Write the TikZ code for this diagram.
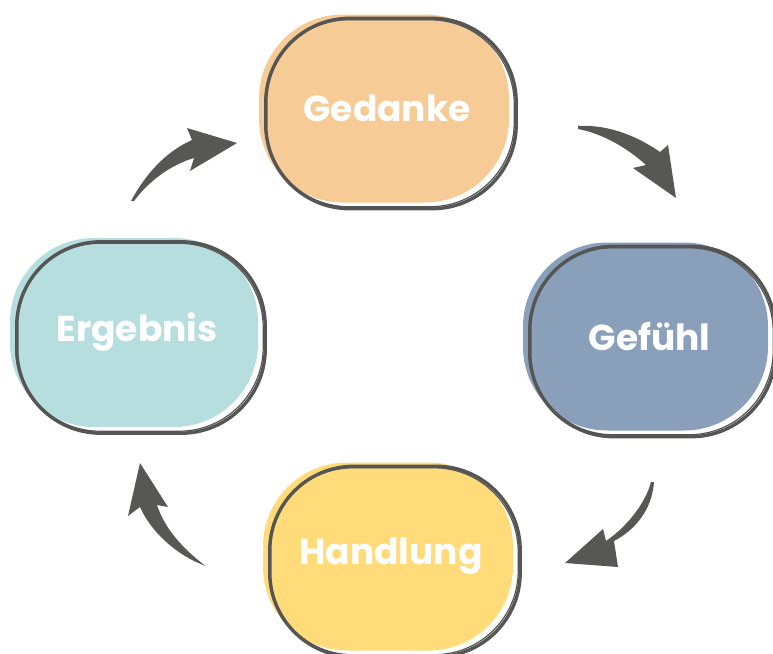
\documentclass[tikz,border=0pt]{standalone}
\usepackage{fontspec}
\setsansfont{Poppins}
\usetikzlibrary{calc}
\definecolor{cGed}{HTML}{F7CB95}
\definecolor{cGef}{HTML}{8AA0BA}
\definecolor{cErg}{HTML}{B6DEDF}
\definecolor{cHan}{HTML}{FFDB7A}
\definecolor{cLine}{HTML}{555553}
\definecolor{cArr}{HTML}{575756}
\tikzset{
  blob/.style={rectangle, rounded corners=84pt, inner sep=0pt, draw=none,
    minimum width=250pt, minimum height=188pt, text=white,
    font=\sffamily\bfseries\fontsize{36}{36}\selectfont},
  rim/.style={draw=cLine, line width=3.4pt, rounded corners=84pt},
  rimthin/.style={draw=cLine, line width=1.2pt, rounded corners=84pt},
  arr/.style={fill=cArr, draw=none}
}
\begin{document}
\begin{tikzpicture}[x=1pt, y=-1pt]
\useasboundingbox (0,0) rectangle (773,653);
% boxes
\node[blob, fill=cGed] (ged) at (384,108.5) {\hspace*{6pt}Gedanke};
\node[blob, fill=cGef, minimum width=245pt] (gef) at (645.5,336.5) {\hspace*{8pt}Gefühl};
\node[blob, fill=cErg, minimum width=248pt, minimum height=189pt] (erg) at (134,332.5) {\hspace*{6pt}Ergebnis};
\node[blob, fill=cHan] (han) at (388,556.5) {\raisebox{4pt}{\hspace*{6pt}Handlung}};
% sketchy outlines
\foreach \n in {ged,gef,erg,han}{
  \draw[rim] ($(\n.north west)+(7,4)$) rectangle ($(\n.south east)+(7,6)$);
  \draw[rimthin] ($(\n.north west)+(6,5.5)$) rectangle ($(\n.south east)+(5,4)$);
}
% arrows
\coordinate (a1) at (578,126);
\fill[arr] (a1) .. controls (610,124) and (640,138) .. (660,152) -- (668,145) -- (676,198) -- (633,168) -- (646,165) .. controls (625,146) and (600,133) .. (578,129) -- cycle;
\coordinate (a2) at (654,482);
\fill[arr] (a2) .. controls (652,510) and (635,530) .. (614,541) -- (618,567) -- (565,563) -- (603,529) -- (606,541) .. controls (625,528) and (645,505) .. (651,482) -- cycle;
\coordinate (a3) at (206,566);
\fill[arr] (a3) .. controls (175,555) and (150,530) .. (140,507) -- (128,516) -- (140,463) -- (168,507) -- (157,505) .. controls (165,530) and (185,550) .. (203,564) -- cycle;
\coordinate (a4) at (131,201);
\fill[arr] (a4) .. controls (145,175) and (165,152) .. (192,140) -- (187,128) -- (237,143) -- (190,171) -- (194,158) .. controls (170,165) and (148,182) .. (134,201) -- cycle;
\end{tikzpicture}
\end{document}
